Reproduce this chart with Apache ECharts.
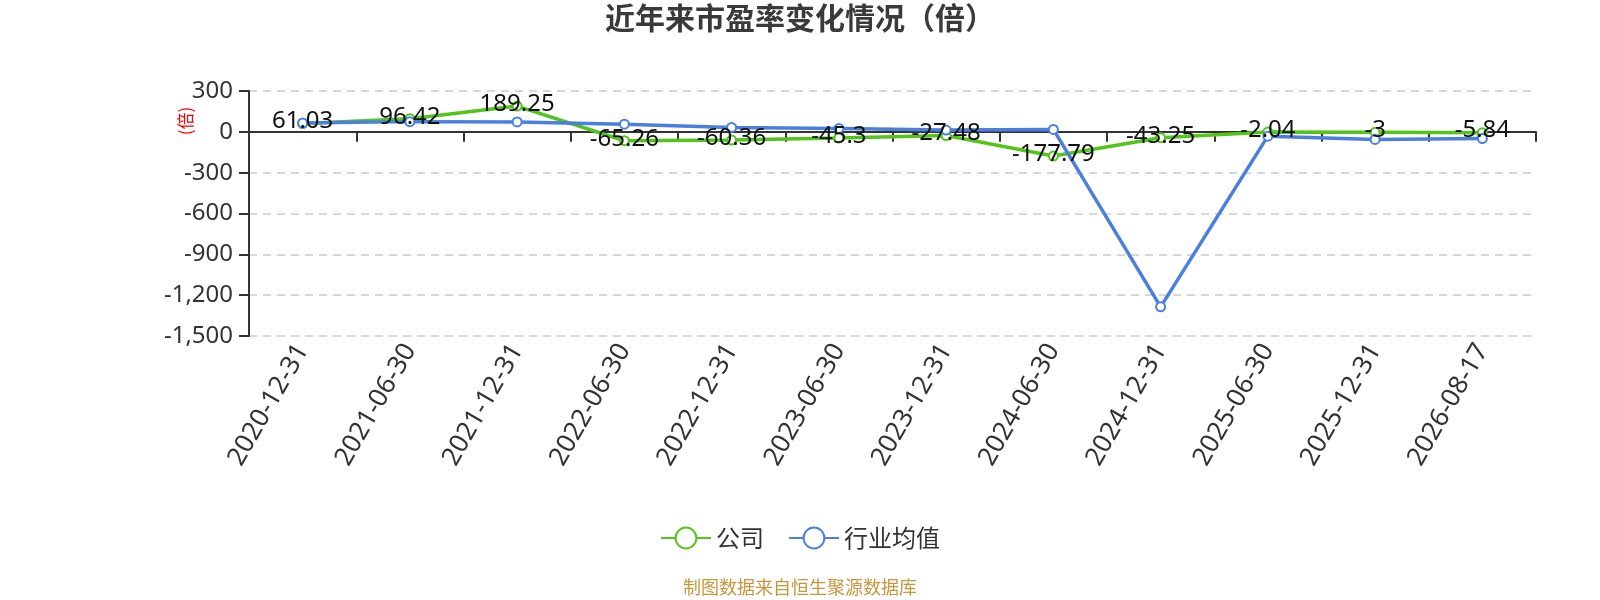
<!DOCTYPE html>
<html>
<head>
<meta charset="utf-8">
<script src="https://cdn.jsdelivr.net/npm/echarts@6/dist/echarts.min.js"></script>
<style>html,body{margin:0;padding:0;background:#fff}#c{width:1600px;height:600px}</style>
</head>
<body>
<div id="c"></div>
<script>
var categories = ['2020-12-31','2021-06-30','2021-12-31','2022-06-30','2022-12-31','2023-06-30','2023-12-31','2024-06-30','2024-12-31','2025-06-30','2025-12-31','2026-08-17'];
var companyValues = [61.03, 96.42, 189.25, -65.26, -60.36, -45.3, -27.48, -177.79, -43.25, -2.04, -3, -5.84];
var industryValues = [65, 75, 73, 56, 32, 24, 13, 18, -1286, -32, -56, -49];
var seriesNames = ['公司', '行业均值'];
var titleText = '近年来市盈率变化情况（倍）';
var sourceText = '制图数据来自恒生聚源数据库';
var unitText = '(倍)';

var FF = "'Noto Sans', 'Noto Sans CJK SC', sans-serif";
var CJK = "'Noto Sans CJK SC', sans-serif";
var chart = echarts.init(document.getElementById('c'));
chart.setOption({
  backgroundColor: '#fff',
  textStyle: { fontFamily: FF },
  animation: false,
  title: [
    { text: titleText, left: 'center', top: 3, padding: 0,
      textStyle: { fontSize: 30, fontWeight: 'bold', color: '#3a3a3a', fontFamily: CJK } },
    { text: sourceText, left: 'center', top: 578, padding: 0,
      textStyle: { fontSize: 18, fontWeight: 'normal', color: '#c8963c', fontFamily: CJK } }
  ],
  graphic: [
    { type: 'text', x: 186, y: 121, rotation: Math.PI / 2,
      style: { text: unitText, fill: '#ff0000', fontSize: 17, align: 'center', verticalAlign: 'middle', fontFamily: CJK } }
  ],
  legend: {
    data: seriesNames, left: 'center', top: 521, itemWidth: 50, itemHeight: 26, itemGap: 24,
    textStyle: { fontSize: 24, color: '#333', fontFamily: CJK }
  },
  grid: { left: 249, right: 64, top: 91, bottom: 264, containLabel: false },
  xAxis: [
    { type: 'category', data: categories, position: 'bottom', boundaryGap: true,
      axisLine: { show: false, onZero: false }, axisTick: { show: false },
      axisLabel: { rotate: 60, fontSize: 26, color: '#333', margin: 10, interval: 0 } },
    { type: 'category', data: categories, position: 'top', boundaryGap: true,
      axisLine: { show: true, onZero: true, lineStyle: { color: '#333', width: 2 } },
      axisTick: { show: true, inside: true, length: 10, lineStyle: { color: '#333', width: 2 } },
      axisLabel: { show: false }, splitLine: { show: false } }
  ],
  yAxis: {
    type: 'value', min: -1500, max: 300, interval: 300,
    axisLine: { show: true, lineStyle: { color: '#333', width: 2 } },
    axisTick: { show: true, length: 10, lineStyle: { color: '#333', width: 2 } },
    axisLabel: { fontSize: 24, color: '#333', margin: 16 },
    splitLine: { show: true, lineStyle: { color: '#ccc', type: [8, 6], width: 1.5 } }
  },
  series: [
    { name: seriesNames[0], type: 'line', data: companyValues, xAxisIndex: 0,
      symbol: 'emptyCircle', symbolSize: 9, itemStyle: { color: '#52c41a', borderWidth: 1.5 },
      lineStyle: { width: 3.5, color: '#52c41a' },
      label: { show: true, position: 'inside', offset: [0, -2], fontSize: 24, color: '#111' } },
    { name: seriesNames[1], type: 'line', data: industryValues, xAxisIndex: 0,
      symbol: 'emptyCircle', symbolSize: 9, itemStyle: { color: '#4a7fe0', borderWidth: 1.5 },
      lineStyle: { width: 3.5, color: '#4a7fe0' }, label: { show: false } }
  ]
});
</script>
</body>
</html>
